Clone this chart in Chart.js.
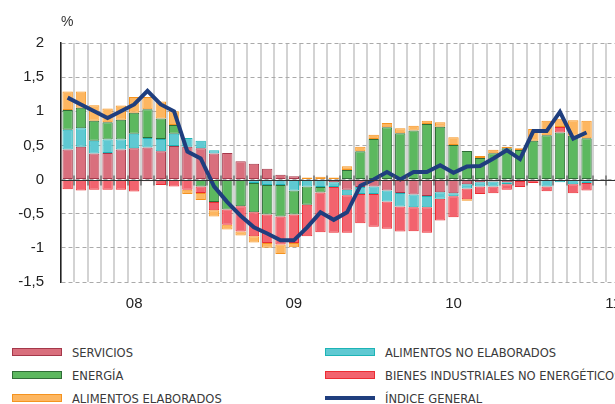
<!DOCTYPE html>
<html>
<head>
<meta charset="utf-8">
<script src="https://cdn.jsdelivr.net/npm/chart.js@4.4.1/dist/chart.umd.min.js"></script>
<style>
  body { margin: 0; }
  #page { position: relative; width: 615px; height: 404px; overflow: hidden; background: #fff; }
  #wrap { position: absolute; left: 0; top: 0; width: 706px; height: 320px; }
  #unit { position: absolute; left: 61px; top: 13px; font: 14px "Liberation Sans", Arial, sans-serif; color: #333; }
  #legend { position: absolute; left: 0; top: 335px; width: 615px; height: 69px; font: 12.8px "Liberation Sans Narrow", "DejaVu Sans Condensed", sans-serif; color: #3a3a3a; }
  .item { position: absolute; height: 16px; display: flex; align-items: center; white-space: nowrap; }
  .sw { width: 48px; height: 6px; border: 1.5px solid; margin-right: 10px; }
  .ln { width: 50px; height: 4px; margin-right: 10px; }
</style>
</head>
<body>
<div id="page">
  <div id="wrap"><canvas id="chart" width="706" height="320"></canvas></div>
  <div id="unit">%</div>
  <div id="legend"></div>
</div>
<script>
// categories: monthly, ene 2008 - dic 2011 (data up to abr 2011)
const months = [
  'ene 08','feb 08','mar 08','abr 08','may 08','jun 08','jul 08','ago 08','sep 08','oct 08','nov 08','dic 08',
  'ene 09','feb 09','mar 09','abr 09','may 09','jun 09','jul 09','ago 09','sep 09','oct 09','nov 09','dic 09',
  'ene 10','feb 10','mar 10','abr 10','may 10','jun 10','jul 10','ago 10','sep 10','oct 10','nov 10','dic 10',
  'ene 11','feb 11','mar 11','abr 11','may 11','jun 11','jul 11','ago 11','sep 11','oct 11','nov 11','dic 11'
];

// contributions (pp)
const servicios = [0.44,0.48,0.38,0.39,0.44,0.46,0.47,0.415,0.49,0.48,0.46,0.38,0.39,0.27,0.23,0.16,0.07,0.05,null,null,
  -0.04,-0.15,-0.11,-0.10,-0.16,-0.195,-0.22,-0.24,-0.185,-0.2,-0.07,-0.04,-0.03,-0.04,-0.02,null,null,null,null,null];
const alimentosNoElaborados = [0.29,0.27,0.19,0.195,0.145,0.21,0.14,0.18,0.18,0.13,0.11,0.05,null,null,-0.05,-0.08,-0.08,-0.16,-0.10,-0.11,
  -0.07,-0.08,-0.10,-0.11,-0.16,-0.2,-0.185,-0.165,-0.095,-0.045,-0.06,-0.06,-0.07,-0.03,null,null,-0.1,-0.04,-0.07,-0.05];
const energia = [0.29,0.30,0.29,0.255,0.29,0.31,0.42,0.30,0.13,null,-0.10,-0.33,-0.44,-0.39,-0.43,-0.43,-0.46,-0.35,-0.27,-0.08,
  null,0.14,0.415,0.595,0.766,0.68,0.72,0.815,0.775,0.507,0.42,0.317,0.385,0.46,0.434,0.57,0.65,0.69,0.64,0.605];
const bienesIndustriales = [-0.14,-0.16,-0.15,-0.15,-0.15,-0.175,-0.025,-0.08,-0.10,-0.15,-0.095,-0.12,-0.22,-0.37,-0.35,-0.42,-0.41,-0.42,-0.46,-0.58,
  -0.67,-0.55,-0.43,-0.48,-0.40,-0.365,-0.35,-0.375,-0.32,-0.305,-0.16,-0.11,-0.10,-0.08,-0.09,-0.05,-0.07,0.08,-0.13,-0.11];
const alimentosElaborados = [0.27,0.24,0.23,0.20,0.21,0.23,0.18,0.25,0.20,-0.06,-0.105,-0.09,-0.07,-0.06,-0.09,-0.07,-0.14,-0.06,0.03,0.04,
  0.03,0.055,0.065,0.06,0.064,0.07,0.07,0.045,0.065,0.113,-0.02,0.03,0.05,0.02,0.026,0.17,0.21,0.12,0.23,0.255];
const indiceGeneral = [1.2,1.1,1.0,0.9,1.0,1.1,1.3,1.1,1.0,0.41,0.31,-0.1,-0.33,-0.53,-0.7,-0.79,-0.89,-0.89,-0.7,-0.48,
  -0.59,-0.48,-0.09,0.0,0.11,0.0,0.11,0.11,0.21,0.1,0.19,0.2,0.31,0.43,0.3,0.71,0.71,0.99,0.6,0.69];

const tickFont = { family: '"Liberation Sans", Arial, sans-serif', size: 15 };

function barSet(label, data, fill, border) {
  return {
    type: 'bar', label: label, data: data, order: 1,
    backgroundColor: fill, borderColor: border, borderWidth: 1, borderSkipped: false,
    barPercentage: 0.78, categoryPercentage: 1
  };
}

const datasets = [
  barSet('SERVICIOS', servicios, '#d96f7d', '#a5384a'),
  barSet('ALIMENTOS NO ELABORADOS', alimentosNoElaborados, '#5fc9d2', '#1db4b6'),
  barSet('ENERGÍA', energia, '#5cb85f', '#2f6d37'),
  barSet('BIENES INDUSTRIALES NO ENERGÉTICOS', bienesIndustriales, '#f2636e', '#ec2c33'),
  barSet('ALIMENTOS ELABORADOS', alimentosElaborados, '#fdb660', '#f5931f'),
  {
    type: 'line', label: 'ÍNDICE GENERAL', data: indiceGeneral, order: 0, stack: 'indice',
    borderColor: '#1f3e7e', borderWidth: 4, pointRadius: 0, tension: 0, borderJoinStyle: 'miter', fill: false
  }
];

// solid zero line with small tick marks at the month separators
const zeroLine = {
  id: 'zeroLine',
  afterDatasetsDraw: function (chart) {
    const ctx = chart.ctx, a = chart.chartArea;
    const y0 = Math.round(chart.scales.y.getPixelForValue(0)) + 0.5;
    const w = a.width / months.length;
    ctx.save();
    ctx.strokeStyle = 'rgba(90,90,90,0.6)';
    ctx.lineWidth = 2;
    for (let i = 1; i <= months.length; i++) {
      const x = Math.round(a.left + i * w);
      ctx.beginPath(); ctx.moveTo(x, y0 - 5); ctx.lineTo(x, y0 + 5); ctx.stroke();
    }
    ctx.strokeStyle = '#333';
    ctx.lineWidth = 1;
    ctx.beginPath(); ctx.moveTo(a.left, y0); ctx.lineTo(a.right, y0); ctx.stroke();
    ctx.restore();
  }
};

new Chart(document.getElementById('chart'), {
  type: 'bar',
  data: { labels: months, datasets: datasets },
  plugins: [zeroLine],
  options: {
    responsive: false,
    animation: false,
    devicePixelRatio: 1,
    layout: { padding: { top: 43, right: 2, left: 0, bottom: 0 } },
    plugins: { legend: { display: false }, tooltip: { enabled: false } },
    scales: {
      x: {
        stacked: true,
        grid: { color: '#d3d3d3', lineWidth: 2, drawTicks: false },
        border: { display: false },
        ticks: {
          autoSkip: false, maxRotation: 0, padding: 13, font: tickFont, color: '#222',
          callback: function (v, i) { return months[i].startsWith('jun') ? months[i].slice(4) : ''; }
        },
        afterFit: function (s) { s.height = 38; }
      },
      y: {
        stacked: true, min: -1.5, max: 2,
        grid: { color: '#aaaaaa', lineWidth: 1, drawTicks: false },
        border: { display: true, color: '#222', width: 1.5, dash: [4, 3] },
        ticks: {
          stepSize: 0.5, font: tickFont, color: '#222', padding: 17,
          callback: function (v) { return String(v).replace('.', ','); }
        },
        afterFit: function (s) { s.width = 61; }
      }
    }
  }
});

// legend, two columns
const legendItems = [
  { ds: 0, left: 12, top: 9 }, { ds: 2, left: 12, top: 32 }, { ds: 4, left: 12, top: 55 },
  { ds: 1, left: 325, top: 9 }, { ds: 3, left: 325, top: 32 }, { ds: 5, left: 325, top: 55 }
];
const legend = document.getElementById('legend');
legendItems.forEach(function (it) {
  const d = datasets[it.ds];
  const el = document.createElement('div');
  el.className = 'item';
  el.style.left = it.left + 'px';
  el.style.top = it.top + 'px';
  const sw = document.createElement('span');
  if (d.type === 'line') {
    sw.className = 'ln';
    sw.style.background = d.borderColor;
  } else {
    sw.className = 'sw';
    sw.style.background = d.backgroundColor;
    sw.style.borderColor = d.borderColor;
  }
  el.appendChild(sw);
  el.appendChild(document.createTextNode(d.label));
  legend.appendChild(el);
});
</script>
</body>
</html>
